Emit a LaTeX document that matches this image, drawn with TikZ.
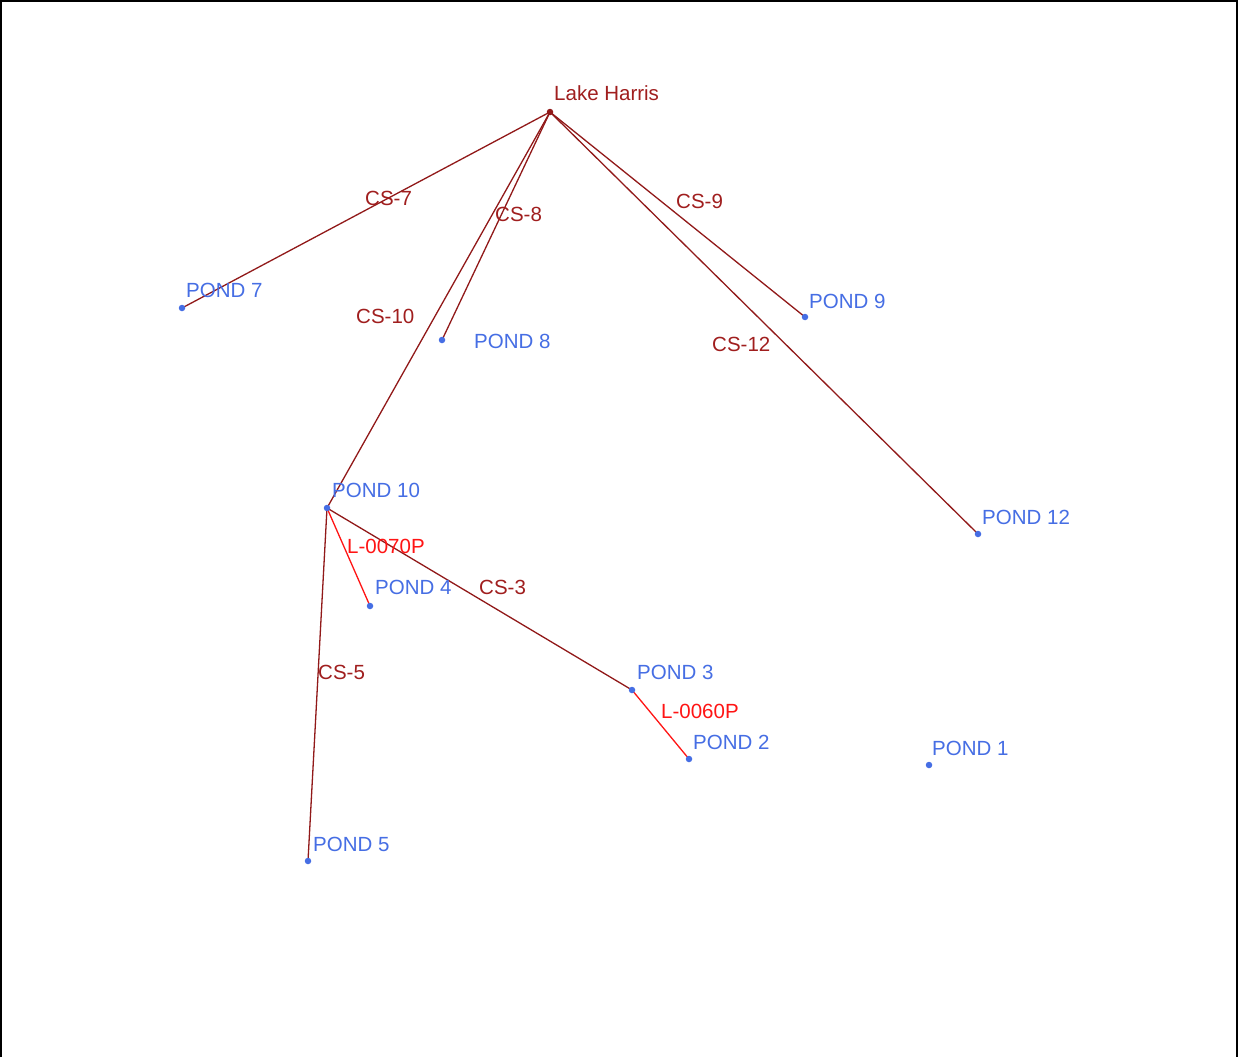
\documentclass[tikz,border=0pt]{standalone}
\usepackage{fontspec}
\setmainfont{Liberation Sans}
\definecolor{linkred}{RGB}{145,25,25}
\definecolor{labred}{RGB}{160,30,30}
\definecolor{pondblue}{RGB}{70,110,228}
\definecolor{pipered}{RGB}{255,20,20}
\tikzset{
  pond/.style={circle,fill=pondblue,inner sep=0pt,minimum size=6.5pt},
  lake/.style={circle,fill=linkred,inner sep=0pt,minimum size=6.5pt},
  pondlab/.style={anchor=base west,inner sep=0pt,text=pondblue,font=\fontsize{20.5}{24}\selectfont},
  lakelab/.style={anchor=base west,inner sep=0pt,text=labred,font=\fontsize{20.5}{24}\selectfont},
  linklab/.style={anchor=base west,inner sep=0pt,text=labred,font=\fontsize{20.5}{24}\selectfont},
  pipelab/.style={anchor=base west,inner sep=0pt,text=pipered,font=\fontsize{20.5}{24}\selectfont},
  channel/.style={draw=linkred,line width=1.3pt},
  pipe/.style={draw=pipered,line width=1.3pt},
}
\begin{document}
\begin{tikzpicture}[x=1pt,y=-1pt]
\useasboundingbox (0,0) rectangle (1238,1057);
\fill[white] (0,0) rectangle (1238,1057);
% frame
\draw[black,line width=2pt] (1,1057) -- (1,0.75) -- (1236.8,0.75) -- (1236.8,1057);
% points
\coordinate (LH) at (550,112);
\coordinate (P7) at (182,308);
\coordinate (P8) at (442,340);
\coordinate (P9) at (805,317);
\coordinate (P10) at (327,508);
\coordinate (P12) at (978,534);
\coordinate (P4) at (370,606);
\coordinate (P3) at (632,690);
\coordinate (P2) at (689,759);
\coordinate (P1) at (929,765);
\coordinate (P5) at (308,861);
% connectors
\draw[channel] (LH) -- (P7);
\draw[channel] (LH) -- (P8);
\draw[channel] (LH) -- (P10);
\draw[channel] (LH) -- (P9);
\draw[channel] (LH) -- (P12);
\draw[channel] (P10) -- (P3);
\draw[channel] (P10) -- (P5);
\draw[pipe] (P10) -- (P4);
\draw[pipe] (P3) -- (P2);
% dots
\node[lake] (nLH) at (LH) {};
\foreach \p in {P7,P8,P9,P10,P12,P4,P3,P2,P1,P5} \node[pond] (n\p) at (\p) {};
% node labels
\node[lakelab] (tLH) at (554,100) {Lake Harris};
\node[pondlab] (t7) at (186,297) {POND 7};
\node[pondlab] (t8) at (474,348) {POND 8};
\node[pondlab] (t9) at (809,308) {POND 9};
\node[pondlab] (t10) at (332,497) {POND 10};
\node[pondlab] (t12) at (982,524) {POND 12};
\node[pondlab] (t4) at (375,594) {POND 4};
\node[pondlab] (t3) at (637,679) {POND 3};
\node[pondlab] (t2) at (693,749) {POND 2};
\node[pondlab] (t1) at (932,755) {POND 1};
\node[pondlab] (t5) at (313,851) {POND 5};
% link labels
\node[linklab] (lcs7) at (365,205) {CS-7};
\node[linklab] (lcs8) at (495,221) {CS-8};
\node[linklab] (lcs9) at (676,208) {CS-9};
\node[linklab] (lcs10) at (356,323) {CS-10};
\node[linklab] (lcs12) at (712,351) {CS-12};
\node[linklab] (lcs3) at (479,594) {CS-3};
\node[linklab] (lcs5) at (318,679) {CS-5};
\node[pipelab] (l70) at (347,553) {L-0070P};
\node[pipelab] (l60) at (661,718) {L-0060P};
\end{tikzpicture}
\end{document}
